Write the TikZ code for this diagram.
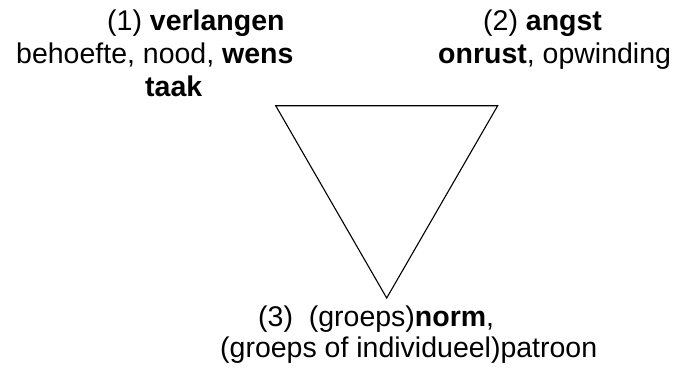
\documentclass[tikz,border=0pt]{standalone}
\usepackage{fontspec}
\setmainfont{Liberation Sans}
\begin{document}
\begin{tikzpicture}[x=1pt,y=-1pt,
  lbl/.style={anchor=base west,inner sep=0pt,font=\fontsize{28.5}{33}\selectfont},
  tri/.style={draw=black,line width=1.1pt,line join=miter}]
\useasboundingbox (0,0) rectangle (680,367);
\node[lbl] (l1) at (107,30) {(1) \textbf{verlangen}};
\node[lbl] (l2) at (16,63) {behoefte, nood, \textbf{wens}};
\node[lbl] (l3) at (145,96) {\textbf{taak}};
\node[lbl] (r1) at (483,30) {(2) \textbf{angst}};
\node[lbl] (r2) at (438,63) {\textbf{onrust}, opwinding};
\node[lbl] (b1) at (258,326) {(3)\ \ (groeps)\textbf{norm},};
\node[lbl] (b2) at (220,357) {(groeps of individueel)patroon};
\coordinate (a) at (275.7,105.7);
\coordinate (b) at (497.7,105.7);
\coordinate (c) at (386.7,298);
\draw[tri] (a) -- (b) -- (c) -- cycle;
\end{tikzpicture}
\end{document}
